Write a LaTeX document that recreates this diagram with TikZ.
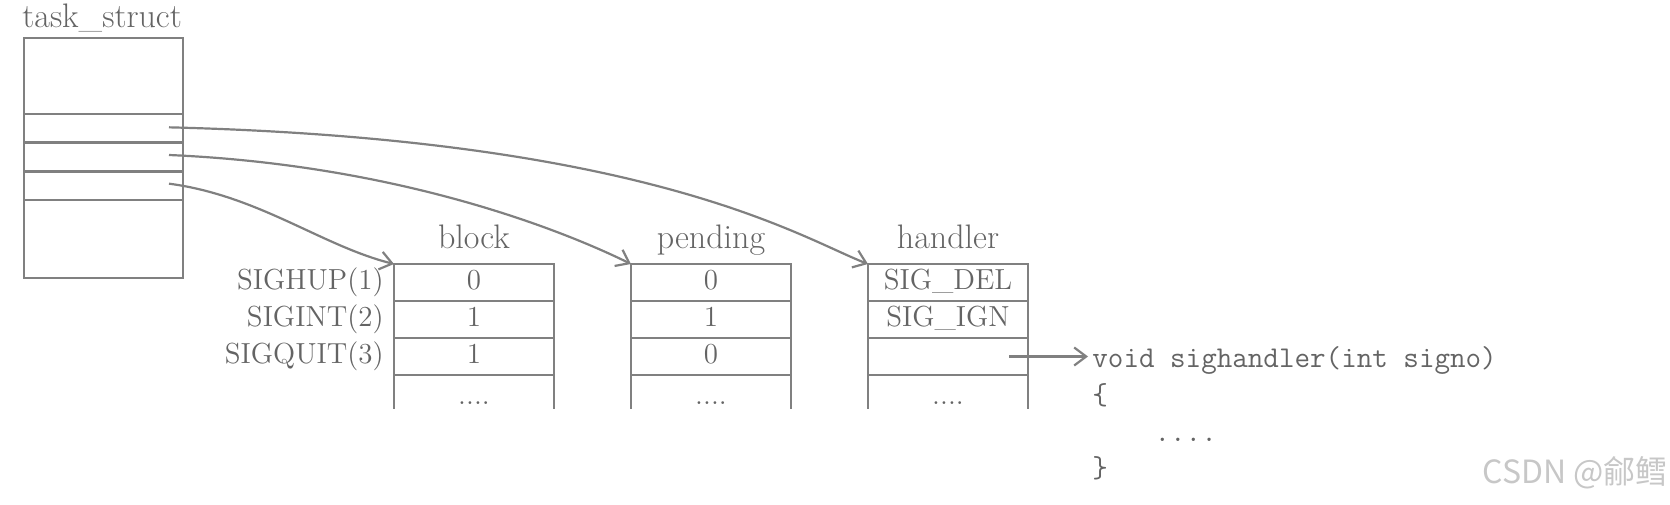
\documentclass[tikz,border=0pt]{standalone}
\usepackage{fontspec}
\usepackage{tikz}
\usetikzlibrary{arrows.meta,calc,positioning}
\newfontfamily\cjk{Noto Sans CJK SC}
\definecolor{linegray}{RGB}{128,128,128}
\definecolor{textgray}{RGB}{100,100,100}
\newcommand{\lbl}{\fontsize{14.5}{17}\selectfont}
\newcommand{\ttl}{\fontsize{17}{20}\selectfont}
\newcommand{\cde}{\fontsize{15.1}{17}\selectfont\ttfamily}

\begin{document}
\begin{tikzpicture}[x=0.5pt,y=-0.5pt,
  cell/.style={draw=linegray,line width=1.3pt,minimum width=80pt,minimum height=18.5pt,
    inner sep=0pt,outer sep=0pt,text=textgray,font=\lbl,text height=9.6pt,text depth=2.6pt},
  open/.style={minimum width=80pt,minimum height=17pt,inner sep=0pt,outer sep=0pt,
    text=textgray,font=\lbl,text height=12pt,text depth=0pt},
  slot/.style={minimum width=79.5pt,inner sep=0pt,outer sep=0pt},
  sig/.style={text=textgray,font=\lbl,inner sep=0pt},
  title/.style={text=textgray,font=\ttl,inner sep=0pt},
  code/.style={text=textgray,font=\cde,inner sep=0pt,anchor=base west},
  frame/.style={draw=linegray,line width=1.3pt},
  link/.style={draw=linegray,line width=1.1pt,-{Straight Barb[length=6pt,width=9pt]}},
  node distance=0pt]

\useasboundingbox (0,0) rectangle (1670,504);

% task_struct
\node[slot,minimum height=38pt] (ts0) at (103.5,76) {};
\node[slot,minimum height=14.33pt,below=of ts0] (ts1) {};
\node[slot,minimum height=14.33pt,below=of ts1] (ts2) {};
\node[slot,minimum height=14.33pt,below=of ts2] (ts3) {};
\node[slot,minimum height=39pt,below=of ts3] (ts4) {};
\draw[frame] (ts0.north west) rectangle (ts4.south east);
\foreach \n in {ts1,ts2,ts3,ts4}
  \draw[frame] (\n.north west) -- (\n.north east);
\node[title,anchor=base west] (tst) at ([xshift=-1pt,yshift=5.5pt]ts0.north west) {task\_struct};

% block
\node[cell] (b1) at (474,282.5) {0};
\node[cell,below=of b1] (b2) {1};
\node[cell,below=of b2] (b3) {1};
\node[open,below=of b3] (b4) {....};
\node[title,anchor=base] (tb) at ([yshift=8pt]b1.north) {block};

% pending
\node[cell,right=38.5pt of b1] (p1) {0};
\node[cell,below=of p1] (p2) {1};
\node[cell,below=of p2] (p3) {0};
\node[open,below=of p3] (p4) {....};
\node[title,anchor=base] (tp) at ([yshift=8pt]p1.north) {pending};

% handler
\node[cell,right=38.5pt of p1] (h1) {SIG\_DEL};
\node[cell,below=of h1] (h2) {SIG\_IGN};
\node[cell,below=of h2] (h3) {};
\node[open,below=of h3] (h4) {....};
\node[title,anchor=base] (th) at ([yshift=8pt]h1.north) {handler};

\foreach \n in {b4,p4,h4}
  \draw[frame] (\n.north west) -- (\n.south west) (\n.north east) -- (\n.south east);

% signal names
\node[sig,left=5pt of b1] (s1) {SIGHUP(1)};
\node[sig,left=5pt of b2] (s2) {SIGINT(2)};
\node[sig,left=5pt of b3] (s3) {SIGQUIT(3)};

% handler function
\node[code,inner xsep=2pt] (fn) at (1088,367) {void sighandler(int signo)};
\node[code] (lb) at (1092,404) {\{};
\node[code] (body) at (1092,441) {\ \ \ \ ....};
\node[code] (rb) at (1092,477) {\}};

% links
\draw[link] ([xshift=-7pt,yshift=0.5pt]ts1.east) .. controls +(481,12) and +(-67,-26) .. (h1.north west);
\draw[link] ([xshift=-7pt,yshift=1pt]ts2.east) .. controls +(231,10) and +(-67,-33) .. (p1.north west);
\draw[link] ([xshift=-7pt,yshift=1pt]ts3.east) .. controls +(90,12) and +(-72,-18) .. (b1.north west);
\draw[link] ([xshift=-9.5pt]h3.east) -- (h3.east -| fn.west);

% watermark
\node[anchor=base west,inner sep=0pt,text=black!22,font=\fontsize{16}{18}\selectfont\cjk] (wm) at (1482,483) {CSDN @鄃鳕};

\end{tikzpicture}
\end{document}
